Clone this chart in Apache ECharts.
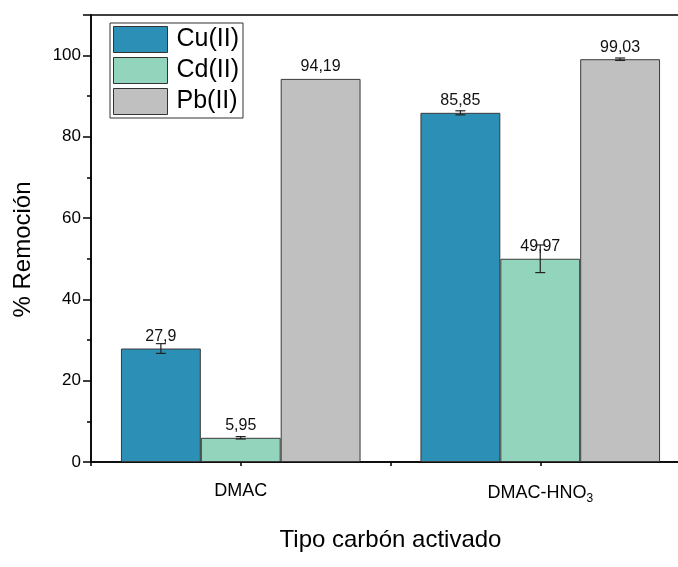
<!DOCTYPE html>
<html>
<head>
<meta charset="utf-8">
<script src="https://cdn.jsdelivr.net/npm/echarts@6/dist/echarts.min.js"></script>
<style>
  html, body { margin: 0; padding: 0; background: #fff; }
  #chart { width: 678px; height: 567px; }
</style>
</head>
<body>
<div id="chart"></div>
<script>
// Removal percentage by activated carbon type and metal ion
const categories = ['DMAC', 'DMAC-HNO3'];
const seriesNames = ['Cu(II)', 'Cd(II)', 'Pb(II)'];
const cuValues = [27.9, 85.85];
const cuErrors = [1.2, 0.5];
const cdValues = [5.95, 49.97];
const cdErrors = [0.3, 3.4];
const pbValues = [94.19, 99.03];
const pbErrors = [0, 0.3];
const yTicks = [0, 20, 40, 60, 80, 100];

const colors = ['#2b8fb6', '#93d4bd', '#c0c0c0'];
const FONT = 'Liberation Sans, Arial, sans-serif';
const valueSets = [cuValues, cdValues, pbValues];
const errorSets = [cuErrors, cdErrors, pbErrors];

const fmt = v => String(v).replace('.', ',');

const barSeries = seriesNames.map((name, i) => ({
  name: name,
  type: 'bar',
  xAxisIndex: 0,
  data: valueSets[i],
  barGap: '0%',
  barCategoryGap: '20%',
  itemStyle: { color: colors[i], borderColor: '#3a3a3a', borderWidth: 1 },
  label: {
    show: true,
    position: 'top',
    distance: 4,
    formatter: p => fmt(p.value),
    fontFamily: FONT,
    fontSize: 16,
    color: '#111'
  },
  z: 2
}));

// Symmetric error bars drawn on top of each bar
const errorSeries = seriesNames.map((name, i) => ({
  name: name + ' err',
  type: 'custom',
  xAxisIndex: 0,
  data: valueSets[i].map((v, k) => [k, v, errorSets[i][k]]),
  encode: { x: 0, y: 1 },
  z: 5,
  silent: true,
  renderItem: function (params, api) {
    const cat = api.value(0), v = api.value(1), e = api.value(2);
    if (!e) return null;
    const bw = api.size([1, 0])[0] * 0.8 / 3;
    const off = (i - 1) * bw;
    const t = api.coord([cat, v + e]);
    const b = api.coord([cat, v - e]);
    const x = t[0] + off;
    const cap = 5;
    const style = { stroke: '#222', lineWidth: 1.2 };
    return {
      type: 'group',
      children: [
        { type: 'line', shape: { x1: x, y1: t[1], x2: x, y2: b[1] }, style: style },
        { type: 'line', shape: { x1: x - cap, y1: t[1], x2: x + cap, y2: t[1] }, style: style },
        { type: 'line', shape: { x1: x - cap, y1: b[1], x2: x + cap, y2: b[1] }, style: style }
      ]
    };
  }
}));

const option = {
  animation: false,
  backgroundColor: '#fff',
  grid: {
    left: 91, top: 15, width: 599, bottom: 105,
    outerBoundsMode: 'none',
    show: true, borderColor: '#000', borderWidth: 1.5, backgroundColor: 'transparent'
  },
  legend: {
    data: seriesNames,
    orient: 'vertical',
    left: 110, top: 23,
    itemWidth: 54, itemHeight: 26, itemGap: 4,
    icon: 'rect',
    borderColor: '#333', borderWidth: 1,
    padding: [3, 4, 3, 3],
    textStyle: { fontFamily: FONT, fontSize: 25, color: '#000', padding: [0, 0, 0, 4] },
    itemStyle: { borderColor: '#333', borderWidth: 1 }
  },
  xAxis: [
    {
      type: 'category',
      data: categories,
      name: 'Tipo carbón activado',
      nameLocation: 'middle',
      nameGap: 66,
      nameTextStyle: { fontFamily: FONT, fontSize: 24, color: '#000' },
      axisLine: { lineStyle: { color: '#000', width: 1.5 } },
      axisTick: { alignWithLabel: true, length: 8, lineStyle: { color: '#000', width: 1.5 } },
      axisLabel: {
        margin: 20,
        fontFamily: FONT, fontSize: 18, color: '#000',
        formatter: v => v === 'DMAC-HNO3' ? '{a|DMAC-HNO}{s|3}' : '{a|' + v + '}',
        rich: {
          a: { fontFamily: FONT, fontSize: 18, color: '#000' },
          s: { fontFamily: FONT, fontSize: 12, color: '#000', verticalAlign: 'bottom', padding: [11, 0, 0, 0] }
        }
      },
      splitLine: { show: false }
    },
    {
      // short minor ticks halfway between categories
      type: 'value',
      min: 0, max: 4, interval: 1,
      position: 'bottom',
      axisLine: { show: false },
      axisTick: { show: true, length: 4, lineStyle: { color: '#000', width: 1.5 } },
      axisLabel: { show: false },
      splitLine: { show: false }
    }
  ],
  yAxis: {
    type: 'value',
    min: 0, max: 109.9, interval: 20,
    name: '% Remoción',
    nameLocation: 'middle',
    nameGap: 56,
    nameTextStyle: { fontFamily: FONT, fontSize: 24, color: '#000', padding: [0, 22, 0, 0] },
    axisLine: { show: true, lineStyle: { color: '#000', width: 1.5 } },
    axisTick: { show: true, length: 8, lineStyle: { color: '#000', width: 1.5 } },
    minorTick: { show: true, splitNumber: 2, length: 4, lineStyle: { color: '#000', width: 1.5 } },
    axisLabel: {
      showMaxLabel: false,
      margin: 10,
      fontFamily: FONT, fontSize: 17, color: '#000',
      formatter: v => yTicks.indexOf(v) >= 0 ? String(v) : ''
    },
    splitLine: { show: false }
  },
  series: barSeries.concat(errorSeries)
};

const chart = echarts.init(document.getElementById('chart'), null, { renderer: 'canvas' });
chart.setOption(option);
</script>
</body>
</html>
